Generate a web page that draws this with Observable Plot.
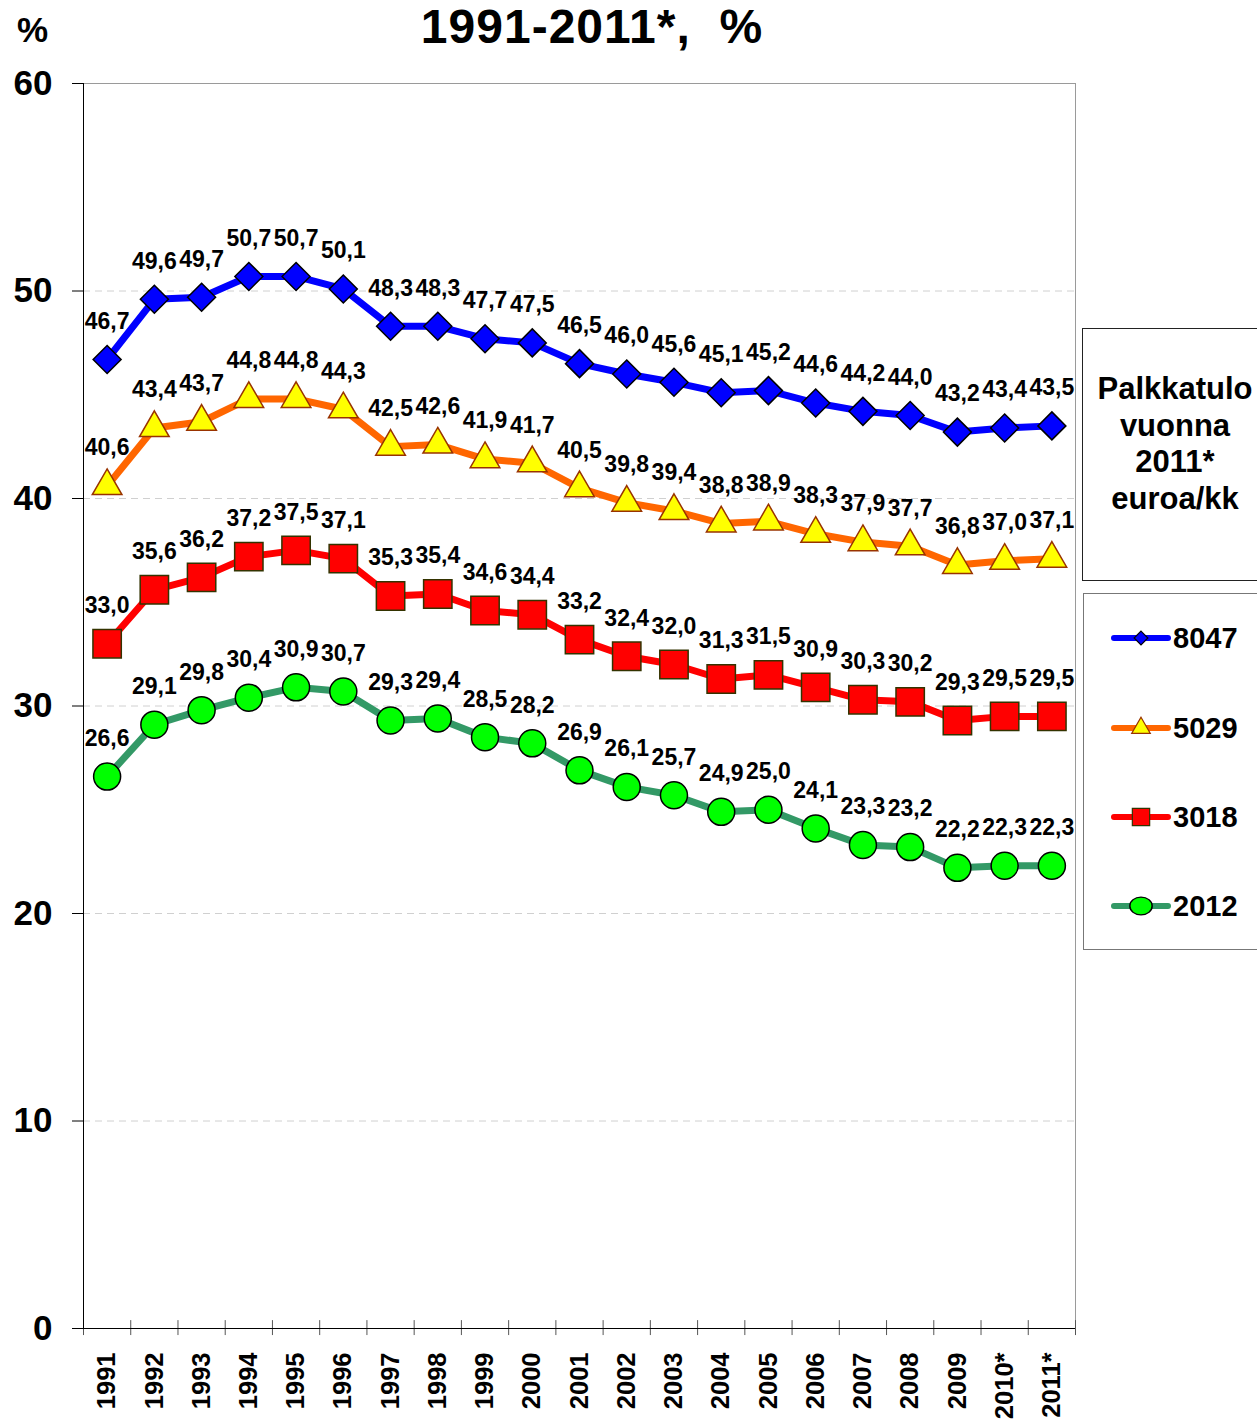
<!DOCTYPE html>
<html>
<head>
<meta charset="utf-8">
<script src="https://cdn.jsdelivr.net/npm/d3@7"></script>
<script src="https://cdn.jsdelivr.net/npm/@observablehq/plot@0.6"></script>
<style>
  html, body { margin: 0; padding: 0; background: #fff; }
  #wrap { position: relative; width: 1257px; height: 1420px; overflow: hidden; font-family: "Liberation Sans", Arial, sans-serif; font-weight: bold; color: #000; }
  #chart { position: absolute; left: 0; top: 0; }
  .title { position: absolute; left: 0; width: 1184px; top: 0px; text-align: center; font-size: 48px; line-height: 54px; white-space: pre; letter-spacing: 1px; }
  .pct { position: absolute; left: 17px; top: 10px; font-size: 35px; }
  .box1 { position: absolute; left: 1082px; top: 328px; width: 180px; height: 253px; border: 1px solid #222; box-sizing: border-box; }
  .box1 .t { position: absolute; left: 0; width: 184px; top: 42px; text-align: center; font-size: 31px; line-height: 36.5px; }
  .box2 { position: absolute; left: 1083px; top: 593px; width: 180px; height: 357px; border: 1px solid #777; box-sizing: border-box; }
  .entry { position: absolute; left: 27px; height: 30px; display: flex; align-items: center; font-size: 29px; }
  .entry svg { margin-right: 2px; }
</style>
</head>
<body>
<div id="wrap">
  <div id="chart"></div>
  <div class="title">1991-2011*,  %</div>
  <div class="pct">%</div>
  <div class="box1"><div class="t">Palkkatulo<br>vuonna<br>2011*<br>euroa/kk</div></div>
  <div class="box2" id="legend"></div>
</div>
<script>
// ---- data ----
const years = ["1991","1992","1993","1994","1995","1996","1997","1998","1999","2000",
  "2001","2002","2003","2004","2005","2006","2007","2008","2009","2010*","2011*"];
const seriesNames = ["8047", "5029", "3018", "2012"];
const s8047 = [46.7,49.6,49.7,50.7,50.7,50.1,48.3,48.3,47.7,47.5,46.5,46.0,45.6,45.1,45.2,44.6,44.2,44.0,43.2,43.4,43.5];
const s5029 = [40.6,43.4,43.7,44.8,44.8,44.3,42.5,42.6,41.9,41.7,40.5,39.8,39.4,38.8,38.9,38.3,37.9,37.7,36.8,37.0,37.1];
const s3018 = [33.0,35.6,36.2,37.2,37.5,37.1,35.3,35.4,34.6,34.4,33.2,32.4,32.0,31.3,31.5,30.9,30.3,30.2,29.3,29.5,29.5];
const s2012 = [26.6,29.1,29.8,30.4,30.9,30.7,29.3,29.4,28.5,28.2,26.9,26.1,25.7,24.9,25.0,24.1,23.3,23.2,22.2,22.3,22.3];
const yTicks = [0, 10, 20, 30, 40, 50, 60];
const gridTicks = [10, 20, 30, 40, 50];

// ---- styles ----
const styles = {
  "8047": {line: "#0000FF", fill: "#0000FF", stroke: "#000000", symbol: "diamond2", r: 12.6, lg: 120},
  "5029": {line: "#FF6600", fill: "#FFFF00", stroke: "#993300", symbol: "triangle", r: 11, lg: 150},
  "3018": {line: "#FF0000", fill: "#FF0000", stroke: "#333300", symbol: "square", r: 16, lg: 300},
  "2012": {line: "#339966", fill: "#00FF00", stroke: "#000000", symbol: "circle", r: 13.5, lg: 250}
};
const valuesBySeries = {"8047": s8047, "5029": s5029, "3018": s3018, "2012": s2012};

const W = 1257, H = 1420;
const mTop = 83, mRight = 182, mBottom = 92, mLeft = 83;
const bw = (W - mLeft - mRight) / years.length;
const fmt = v => v.toFixed(1).replace(".", ",");
const FONT = "Liberation Sans, Arial, sans-serif";

const marks = [
  Plot.ruleY(gridTicks, {stroke: "#d0d0d0", strokeDasharray: "7,5", strokeWidth: 1}),
  Plot.frame({stroke: "#9a9a9a"}),
  // x tick marks at band boundaries
  Plot.ruleX(years, {x: d => d, y1: 0.38, y2: -0.34, dx: -bw / 2, stroke: "#555"}),
  Plot.ruleX(years.slice(-1), {x: d => d, y1: 0.38, y2: -0.34, dx: bw / 2, stroke: "#555"}),
  // black axes lines
  Plot.ruleX(years.slice(0, 1), {x: d => d, y1: 0, y2: 60, dx: -bw / 2, stroke: "#000"}),
  Plot.ruleY([0], {stroke: "#000"}),
  Plot.axisY({ticks: yTicks, tickSize: 11, tickPadding: 20, fontSize: 35, fontWeight: "bold", label: null, tickFormat: d => String(d)}),
  Plot.axisX({tickSize: 0, tickPadding: 24, tickRotate: -90, fontSize: 25.5, fontWeight: "bold", label: null})
];

for (const name of seriesNames) {
  const st = styles[name];
  const data = years.map((yr, i) => ({year: yr, value: valuesBySeries[name][i]}));
  marks.push(Plot.line(data, {x: "year", y: "value", stroke: st.line, strokeWidth: 7, strokeLinejoin: "round", strokeLinecap: "round"}));
}
for (const name of seriesNames) {
  const st = styles[name];
  const data = years.map((yr, i) => ({year: yr, value: valuesBySeries[name][i]}));
  marks.push(Plot.dot(data, {x: "year", y: "value", symbol: st.symbol, r: st.r, fill: st.fill, stroke: st.stroke, strokeWidth: 1.5}));
  marks.push(Plot.text(data, {x: "year", y: "value", text: d => fmt(d.value), dy: -38, fontSize: 23, fontWeight: "bold", fill: "#000"}));
}

const chart = Plot.plot({
  width: W, height: H,
  marginTop: mTop, marginRight: mRight, marginBottom: mBottom, marginLeft: mLeft,
  style: {fontFamily: FONT, color: "#000", background: "transparent"},
  x: {type: "band", domain: years, padding: 0, round: false},
  y: {domain: [0, 60]},
  marks
});
document.getElementById("chart").appendChild(chart);

// ---- legend ----
const legend = document.getElementById("legend");
const legendTops = [29, 119, 208, 297];
const symbolTypes = {diamond2: d3.symbolDiamond2, triangle: d3.symbolTriangle, square: d3.symbolSquare, circle: d3.symbolCircle};
seriesNames.forEach((name, i) => {
  const st = styles[name];
  const e = document.createElement("div");
  e.className = "entry";
  e.style.top = legendTops[i] + "px";
  const path = d3.symbol(symbolTypes[st.symbol], st.lg)();
  const tf = st.symbol === "circle" ? "translate(30,15) scale(1.25,1)" : "translate(30,15)";
  e.innerHTML = `<svg width="60" height="30"><line x1="3" x2="57" y1="15" y2="15" stroke="${st.line}" stroke-width="6" stroke-linecap="round"/>` +
    `<path transform="${tf}" d="${path}" fill="${st.fill}" stroke="${st.stroke}" stroke-width="1.2"/></svg><span>${name}</span>`;
  legend.appendChild(e);
});
</script>
</body>
</html>
